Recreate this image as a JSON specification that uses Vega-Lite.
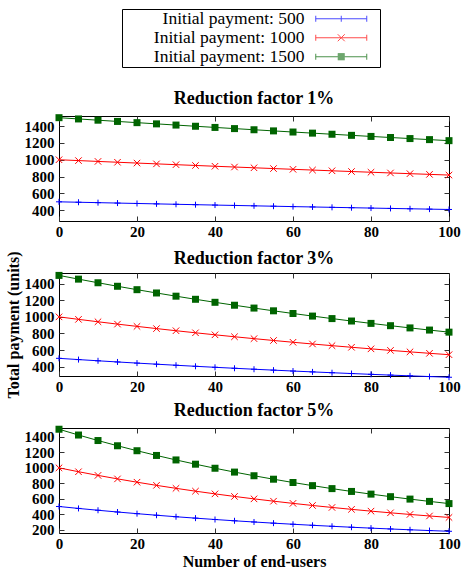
{
  "$schema": "https://vega.github.io/schema/vega-lite/v6.json",
  "padding": {"left": 4, "top": 8, "right": 2, "bottom": 4},
  "background": "white",
  "bounds": "flush",
  "spacing": 52,
  "config": {
    "font": "Liberation Serif",
    "view": {"stroke": "black", "strokeWidth": 1},
    "axis": {"grid": false, "domain": false, "tickSize": -5, "tickColor": "#333333", "labelFont": "Liberation Serif", "labelFontWeight": "bold", "labelFontSize": 15, "labelColor": "black", "labelFlush": false, "labelOverlap": false, "format": "d", "titleFont": "Liberation Serif", "titleFontWeight": "bold", "titleFontSize": 16, "titleColor": "black"},
    "axisX": {"labelPadding": 8},
    "axisY": {"labelPadding": 10, "titlePadding": 3},
    "title": {"font": "Liberation Serif", "fontSize": 18, "fontWeight": "bold", "color": "black", "offset": 6}
  },
  "datasets": {
    "d": [
      {"f":1,"s":500,"n":0,"v":500},{"f":1,"s":500,"n":5,"v":495},{"f":1,"s":500,"n":10,"v":490.1},{"f":1,"s":500,"n":15,"v":485.1},{"f":1,"s":500,"n":20,"v":480.3},{"f":1,"s":500,"n":25,"v":475.5},{"f":1,"s":500,"n":30,"v":470.7},{"f":1,"s":500,"n":35,"v":466.0},{"f":1,"s":500,"n":40,"v":461.4},{"f":1,"s":500,"n":45,"v":456.8},{"f":1,"s":500,"n":50,"v":452.2},{"f":1,"s":500,"n":55,"v":447.7},{"f":1,"s":500,"n":60,"v":443.2},{"f":1,"s":500,"n":65,"v":438.8},{"f":1,"s":500,"n":70,"v":434.4},{"f":1,"s":500,"n":75,"v":430.0},{"f":1,"s":500,"n":80,"v":425.7},{"f":1,"s":500,"n":85,"v":421.5},{"f":1,"s":500,"n":90,"v":417.3},{"f":1,"s":500,"n":95,"v":413.1},{"f":1,"s":500,"n":100,"v":409.0},
      {"f":1,"s":1000,"n":0,"v":1000},{"f":1,"s":1000,"n":5,"v":990},{"f":1,"s":1000,"n":10,"v":980.1},{"f":1,"s":1000,"n":15,"v":970.3},{"f":1,"s":1000,"n":20,"v":960.6},{"f":1,"s":1000,"n":25,"v":951.0},{"f":1,"s":1000,"n":30,"v":941.5},{"f":1,"s":1000,"n":35,"v":932.1},{"f":1,"s":1000,"n":40,"v":922.7},{"f":1,"s":1000,"n":45,"v":913.5},{"f":1,"s":1000,"n":50,"v":904.4},{"f":1,"s":1000,"n":55,"v":895.3},{"f":1,"s":1000,"n":60,"v":886.4},{"f":1,"s":1000,"n":65,"v":877.5},{"f":1,"s":1000,"n":70,"v":868.7},{"f":1,"s":1000,"n":75,"v":860.1},{"f":1,"s":1000,"n":80,"v":851.5},{"f":1,"s":1000,"n":85,"v":842.9},{"f":1,"s":1000,"n":90,"v":834.5},{"f":1,"s":1000,"n":95,"v":826.2},{"f":1,"s":1000,"n":100,"v":817.9},
      {"f":1,"s":1500,"n":0,"v":1500},{"f":1,"s":1500,"n":5,"v":1485},{"f":1,"s":1500,"n":10,"v":1470.2},{"f":1,"s":1500,"n":15,"v":1455.4},{"f":1,"s":1500,"n":20,"v":1440.9},{"f":1,"s":1500,"n":25,"v":1426.5},{"f":1,"s":1500,"n":30,"v":1412.2},{"f":1,"s":1500,"n":35,"v":1398.1},{"f":1,"s":1500,"n":40,"v":1384.1},{"f":1,"s":1500,"n":45,"v":1370.3},{"f":1,"s":1500,"n":50,"v":1356.6},{"f":1,"s":1500,"n":55,"v":1343.0},{"f":1,"s":1500,"n":60,"v":1329.6},{"f":1,"s":1500,"n":65,"v":1316.3},{"f":1,"s":1500,"n":70,"v":1303.1},{"f":1,"s":1500,"n":75,"v":1290.1},{"f":1,"s":1500,"n":80,"v":1277.2},{"f":1,"s":1500,"n":85,"v":1264.4},{"f":1,"s":1500,"n":90,"v":1251.8},{"f":1,"s":1500,"n":95,"v":1239.3},{"f":1,"s":1500,"n":100,"v":1226.9},
      {"f":3,"s":500,"n":0,"v":500},{"f":3,"s":500,"n":5,"v":485},{"f":3,"s":500,"n":10,"v":470.5},{"f":3,"s":500,"n":15,"v":456.3},{"f":3,"s":500,"n":20,"v":442.6},{"f":3,"s":500,"n":25,"v":429.4},{"f":3,"s":500,"n":30,"v":416.5},{"f":3,"s":500,"n":35,"v":404.0},{"f":3,"s":500,"n":40,"v":391.9},{"f":3,"s":500,"n":45,"v":380.1},{"f":3,"s":500,"n":50,"v":368.7},{"f":3,"s":500,"n":55,"v":357.7},{"f":3,"s":500,"n":60,"v":346.9},{"f":3,"s":500,"n":65,"v":336.5},{"f":3,"s":500,"n":70,"v":326.4},{"f":3,"s":500,"n":75,"v":316.6},{"f":3,"s":500,"n":80,"v":307.1},{"f":3,"s":500,"n":85,"v":297.9},{"f":3,"s":500,"n":90,"v":289.0},{"f":3,"s":500,"n":95,"v":280.3},{"f":3,"s":500,"n":100,"v":271.9},
      {"f":3,"s":1000,"n":0,"v":1000},{"f":3,"s":1000,"n":5,"v":970},{"f":3,"s":1000,"n":10,"v":940.9},{"f":3,"s":1000,"n":15,"v":912.7},{"f":3,"s":1000,"n":20,"v":885.3},{"f":3,"s":1000,"n":25,"v":858.7},{"f":3,"s":1000,"n":30,"v":833.0},{"f":3,"s":1000,"n":35,"v":808.0},{"f":3,"s":1000,"n":40,"v":783.7},{"f":3,"s":1000,"n":45,"v":760.2},{"f":3,"s":1000,"n":50,"v":737.4},{"f":3,"s":1000,"n":55,"v":715.3},{"f":3,"s":1000,"n":60,"v":693.8},{"f":3,"s":1000,"n":65,"v":673.0},{"f":3,"s":1000,"n":70,"v":652.8},{"f":3,"s":1000,"n":75,"v":633.3},{"f":3,"s":1000,"n":80,"v":614.3},{"f":3,"s":1000,"n":85,"v":595.8},{"f":3,"s":1000,"n":90,"v":578.0},{"f":3,"s":1000,"n":95,"v":560.6},{"f":3,"s":1000,"n":100,"v":543.8},
      {"f":3,"s":1500,"n":0,"v":1500},{"f":3,"s":1500,"n":5,"v":1455},{"f":3,"s":1500,"n":10,"v":1411.4},{"f":3,"s":1500,"n":15,"v":1369.0},{"f":3,"s":1500,"n":20,"v":1327.9},{"f":3,"s":1500,"n":25,"v":1288.1},{"f":3,"s":1500,"n":30,"v":1249.5},{"f":3,"s":1500,"n":35,"v":1212.0},{"f":3,"s":1500,"n":40,"v":1175.6},{"f":3,"s":1500,"n":45,"v":1140.3},{"f":3,"s":1500,"n":50,"v":1106.1},{"f":3,"s":1500,"n":55,"v":1073.0},{"f":3,"s":1500,"n":60,"v":1040.8},{"f":3,"s":1500,"n":65,"v":1009.5},{"f":3,"s":1500,"n":70,"v":979.3},{"f":3,"s":1500,"n":75,"v":949.9},{"f":3,"s":1500,"n":80,"v":921.4},{"f":3,"s":1500,"n":85,"v":893.7},{"f":3,"s":1500,"n":90,"v":866.9},{"f":3,"s":1500,"n":95,"v":840.9},{"f":3,"s":1500,"n":100,"v":815.7},
      {"f":5,"s":500,"n":0,"v":500},{"f":5,"s":500,"n":5,"v":475},{"f":5,"s":500,"n":10,"v":451.3},{"f":5,"s":500,"n":15,"v":428.7},{"f":5,"s":500,"n":20,"v":407.3},{"f":5,"s":500,"n":25,"v":386.9},{"f":5,"s":500,"n":30,"v":367.5},{"f":5,"s":500,"n":35,"v":349.2},{"f":5,"s":500,"n":40,"v":331.7},{"f":5,"s":500,"n":45,"v":315.1},{"f":5,"s":500,"n":50,"v":299.4},{"f":5,"s":500,"n":55,"v":284.4},{"f":5,"s":500,"n":60,"v":270.2},{"f":5,"s":500,"n":65,"v":256.7},{"f":5,"s":500,"n":70,"v":243.8},{"f":5,"s":500,"n":75,"v":231.6},{"f":5,"s":500,"n":80,"v":220.1},{"f":5,"s":500,"n":85,"v":209.1},{"f":5,"s":500,"n":90,"v":198.6},{"f":5,"s":500,"n":95,"v":188.7},{"f":5,"s":500,"n":100,"v":179.2},
      {"f":5,"s":1000,"n":0,"v":1000},{"f":5,"s":1000,"n":5,"v":950},{"f":5,"s":1000,"n":10,"v":902.5},{"f":5,"s":1000,"n":15,"v":857.4},{"f":5,"s":1000,"n":20,"v":814.5},{"f":5,"s":1000,"n":25,"v":773.8},{"f":5,"s":1000,"n":30,"v":735.1},{"f":5,"s":1000,"n":35,"v":698.3},{"f":5,"s":1000,"n":40,"v":663.4},{"f":5,"s":1000,"n":45,"v":630.2},{"f":5,"s":1000,"n":50,"v":598.7},{"f":5,"s":1000,"n":55,"v":568.8},{"f":5,"s":1000,"n":60,"v":540.4},{"f":5,"s":1000,"n":65,"v":513.3},{"f":5,"s":1000,"n":70,"v":487.7},{"f":5,"s":1000,"n":75,"v":463.3},{"f":5,"s":1000,"n":80,"v":440.1},{"f":5,"s":1000,"n":85,"v":418.1},{"f":5,"s":1000,"n":90,"v":397.2},{"f":5,"s":1000,"n":95,"v":377.4},{"f":5,"s":1000,"n":100,"v":358.5},
      {"f":5,"s":1500,"n":0,"v":1500},{"f":5,"s":1500,"n":5,"v":1425},{"f":5,"s":1500,"n":10,"v":1353.8},{"f":5,"s":1500,"n":15,"v":1286.1},{"f":5,"s":1500,"n":20,"v":1221.8},{"f":5,"s":1500,"n":25,"v":1160.7},{"f":5,"s":1500,"n":30,"v":1102.6},{"f":5,"s":1500,"n":35,"v":1047.5},{"f":5,"s":1500,"n":40,"v":995.1},{"f":5,"s":1500,"n":45,"v":945.4},{"f":5,"s":1500,"n":50,"v":898.1},{"f":5,"s":1500,"n":55,"v":853.2},{"f":5,"s":1500,"n":60,"v":810.5},{"f":5,"s":1500,"n":65,"v":770.0},{"f":5,"s":1500,"n":70,"v":731.5},{"f":5,"s":1500,"n":75,"v":694.9},{"f":5,"s":1500,"n":80,"v":660.2},{"f":5,"s":1500,"n":85,"v":627.2},{"f":5,"s":1500,"n":90,"v":595.8},{"f":5,"s":1500,"n":95,"v":566.0},{"f":5,"s":1500,"n":100,"v":537.7}
    ]
  },
  "vconcat": [
    {
      "width": 390, "height": 105,
      "title": {"text": "Reduction factor 1%"},
      "data": {"name": "d"},
      "transform": [{"filter": "datum.f == 1"}],
      "encoding": {
        "x": {"field": "n", "type": "quantitative", "scale": {"domain": [0, 100], "nice": false}, "axis": null},
        "y": {"field": "v", "type": "quantitative", "scale": {"domain": [272, 1520], "nice": false, "zero": false}, "axis": null}
      },
      "layer": [
        {
          "transform": [{"filter": "datum.n < 0"}],
          "mark": {"type": "point", "filled": false, "strokeWidth": 1},
          "encoding": {
            "color": {"field": "s", "type": "nominal", "scale": {"domain": [500, 1000, 1500], "range": ["#0000ff", "#ff0000", "#006400"]},
              "legend": {"orient": "none", "legendX": 63, "legendY": -107, "title": null, "strokeColor": "black", "fillColor": "white", "padding": 1, "labelFont": "Liberation Serif", "labelFontSize": 17.5, "labelFontWeight": "normal", "labelColor": "black", "labelAlign": "right", "labelOffset": 164, "labelLimit": 400, "symbolSize": 100, "symbolStrokeWidth": 1, "rowPadding": 0, "labelExpr": "'Initial payment: ' + datum.label"}},
            "shape": {"field": "s", "type": "nominal", "scale": {"domain": [500, 1000, 1500], "range": [
              "M36.8,0H47M36.8,-0.6V0.6M47,-0.6V0.6M41.9,-0.6V0.6M49,0",
              "M36.8,0H47M36.8,-0.6V0.6M47,-0.6V0.6M41.2,-0.7L42.6,0.7M41.2,0.7L42.6,-0.7M49,0",
              "M36.8,0H47M36.8,-0.6V0.6M47,-0.6V0.6M41.2,-0.6H42.6M41.2,-0.4H42.6M41.2,-0.2H42.6M41.2,0.2H42.6M41.2,0.4H42.6M41.2,0.6H42.6M49,0"]},
              "legend": {"orient": "none", "legendX": 63, "legendY": -107, "title": null, "strokeColor": "black", "fillColor": "white", "padding": 1, "labelFont": "Liberation Serif", "labelFontSize": 17.5, "labelFontWeight": "normal", "labelColor": "black", "labelAlign": "right", "labelOffset": 164, "labelLimit": 400, "symbolSize": 100, "symbolStrokeWidth": 1, "rowPadding": 0, "labelExpr": "'Initial payment: ' + datum.label"}}
          }
        },
        {
          "mark": {"type": "line", "strokeWidth": 1},
          "encoding": {
            "x": {"field": "n", "type": "quantitative", "scale": {"domain": [0, 100], "nice": false}, "axis": {"values": [0, 20, 40, 60, 80, 100], "title": null}},
            "y": {"field": "v", "type": "quantitative", "scale": {"domain": [272, 1520], "nice": false, "zero": false}, "axis": {"values": [400, 600, 800, 1000, 1200, 1400], "title": null}},
            "color": {"field": "s", "type": "nominal", "legend": null}
          }
        },
        {
          "transform": [{"filter": "datum.s == 500"}],
          "mark": {"type": "point", "shape": "M-1,0H1M0,-1V1", "filled": false, "size": 36, "strokeWidth": 1, "opacity": 1},
          "encoding": {"color": {"field": "s", "type": "nominal", "legend": null}}
        },
        {
          "transform": [{"filter": "datum.s == 1000"}],
          "mark": {"type": "point", "shape": "M-1,-1L1,1M-1,1L1,-1", "filled": false, "size": 42, "strokeWidth": 1, "opacity": 1},
          "encoding": {"color": {"field": "s", "type": "nominal", "legend": null}}
        },
        {
          "transform": [{"filter": "datum.s == 1500"}],
          "mark": {"type": "square", "size": 49, "opacity": 1},
          "encoding": {"color": {"field": "s", "type": "nominal", "legend": null}}
        },
        {
          "mark": {"type": "point", "opacity": 0},
          "encoding": {
            "x": {"field": "n", "type": "quantitative", "scale": {"domain": [0, 100], "nice": false}, "axis": {"orient": "top", "labels": false, "values": [0, 20, 40, 60, 80, 100], "title": null}},
            "y": {"field": "v", "type": "quantitative", "scale": {"domain": [272, 1520], "nice": false, "zero": false}, "axis": {"orient": "right", "labels": false, "values": [400, 600, 800, 1000, 1200, 1400], "title": null}}
          }
        }
      ],
      "resolve": {"axis": {"x": "independent", "y": "independent"}}
    },
    {
      "width": 390, "height": 103,
      "title": {"text": "Reduction factor 3%", "offset": -16.5},
      "data": {"name": "d"},
      "transform": [{"filter": "datum.f == 3"}],
      "encoding": {
        "x": {"field": "n", "type": "quantitative", "scale": {"domain": [0, 100], "nice": false}, "axis": null},
        "y": {"field": "v", "type": "quantitative", "scale": {"domain": [287, 1529], "nice": false, "zero": false}, "axis": null}
      },
      "layer": [
        {
          "mark": {"type": "line", "strokeWidth": 1},
          "encoding": {
            "x": {"field": "n", "type": "quantitative", "scale": {"domain": [0, 100], "nice": false}, "axis": {"values": [0, 20, 40, 60, 80, 100], "title": null}},
            "y": {"field": "v", "type": "quantitative", "scale": {"domain": [287, 1529], "nice": false, "zero": false}, "axis": {"values": [400, 600, 800, 1000, 1200, 1400], "title": "Total payment (units)"}},
            "color": {"field": "s", "type": "nominal", "legend": null}
          }
        },
        {
          "transform": [{"filter": "datum.s == 500"}],
          "mark": {"type": "point", "shape": "M-1,0H1M0,-1V1", "filled": false, "size": 36, "strokeWidth": 1, "opacity": 1},
          "encoding": {"color": {"field": "s", "type": "nominal", "legend": null}}
        },
        {
          "transform": [{"filter": "datum.s == 1000"}],
          "mark": {"type": "point", "shape": "M-1,-1L1,1M-1,1L1,-1", "filled": false, "size": 42, "strokeWidth": 1, "opacity": 1},
          "encoding": {"color": {"field": "s", "type": "nominal", "legend": null}}
        },
        {
          "transform": [{"filter": "datum.s == 1500"}],
          "mark": {"type": "square", "size": 49, "opacity": 1},
          "encoding": {"color": {"field": "s", "type": "nominal", "legend": null}}
        },
        {
          "mark": {"type": "point", "opacity": 0},
          "encoding": {
            "x": {"field": "n", "type": "quantitative", "scale": {"domain": [0, 100], "nice": false}, "axis": {"orient": "top", "labels": false, "values": [0, 20, 40, 60, 80, 100], "title": null}},
            "y": {"field": "v", "type": "quantitative", "scale": {"domain": [287, 1529], "nice": false, "zero": false}, "axis": {"orient": "right", "labels": false, "values": [400, 600, 800, 1000, 1200, 1400], "title": null}}
          }
        }
      ],
      "resolve": {"axis": {"x": "independent", "y": "independent"}}
    },
    {
      "width": 390, "height": 105,
      "title": {"text": "Reduction factor 5%"},
      "data": {"name": "d"},
      "transform": [{"filter": "datum.f == 5"}],
      "encoding": {
        "x": {"field": "n", "type": "quantitative", "scale": {"domain": [0, 100], "nice": false}, "axis": null},
        "y": {"field": "v", "type": "quantitative", "scale": {"domain": [157, 1516], "nice": false, "zero": false}, "axis": null}
      },
      "layer": [
        {
          "mark": {"type": "line", "strokeWidth": 1},
          "encoding": {
            "x": {"field": "n", "type": "quantitative", "scale": {"domain": [0, 100], "nice": false}, "axis": {"values": [0, 20, 40, 60, 80, 100], "title": "Number of end-users", "titlePadding": 2}},
            "y": {"field": "v", "type": "quantitative", "scale": {"domain": [157, 1516], "nice": false, "zero": false}, "axis": {"values": [200, 400, 600, 800, 1000, 1200, 1400], "title": null}},
            "color": {"field": "s", "type": "nominal", "legend": null}
          }
        },
        {
          "transform": [{"filter": "datum.s == 500"}],
          "mark": {"type": "point", "shape": "M-1,0H1M0,-1V1", "filled": false, "size": 36, "strokeWidth": 1, "opacity": 1},
          "encoding": {"color": {"field": "s", "type": "nominal", "legend": null}}
        },
        {
          "transform": [{"filter": "datum.s == 1000"}],
          "mark": {"type": "point", "shape": "M-1,-1L1,1M-1,1L1,-1", "filled": false, "size": 42, "strokeWidth": 1, "opacity": 1},
          "encoding": {"color": {"field": "s", "type": "nominal", "legend": null}}
        },
        {
          "transform": [{"filter": "datum.s == 1500"}],
          "mark": {"type": "square", "size": 49, "opacity": 1},
          "encoding": {"color": {"field": "s", "type": "nominal", "legend": null}}
        },
        {
          "mark": {"type": "point", "opacity": 0},
          "encoding": {
            "x": {"field": "n", "type": "quantitative", "scale": {"domain": [0, 100], "nice": false}, "axis": {"orient": "top", "labels": false, "values": [0, 20, 40, 60, 80, 100], "title": null}},
            "y": {"field": "v", "type": "quantitative", "scale": {"domain": [157, 1516], "nice": false, "zero": false}, "axis": {"orient": "right", "labels": false, "values": [200, 400, 600, 800, 1000, 1200, 1400], "title": null}}
          }
        }
      ],
      "resolve": {"axis": {"x": "independent", "y": "independent"}}
    }
  ]
}
